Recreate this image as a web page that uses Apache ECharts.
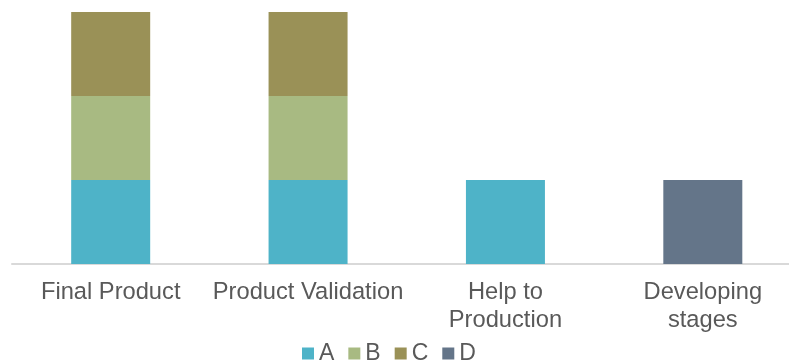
<!DOCTYPE html>
<html>
<head>
<meta charset="utf-8">
<title>Stages</title>
<script src="https://cdn.jsdelivr.net/npm/echarts@6/dist/echarts.min.js"></script>
<style>
  html, body { margin: 0; padding: 0; background: #ffffff; }
  #chart { width: 789px; height: 362px; }
</style>
</head>
<body>
<div id="chart"></div>
<script>
// Categories along the x axis (two-line names wrap with \n)
const categories = ['Final Product', 'Product Validation', 'Help to\nProduction', 'Developing\nstages'];

// Stacked segment values per series
const seriesA = [1, 1, 1, null];
const seriesB = [1, 1, null, null];
const seriesC = [1, 1, null, null];
const seriesD = [null, null, null, 1];

const seriesNames = ['A', 'B', 'C', 'D'];
const seriesValues = [seriesA, seriesB, seriesC, seriesD];
const seriesColors = ['#4eb3c8', '#a8ba82', '#9a9157', '#647589'];

const textColor = '#595959';
const fontFamily = 'Arial, "Liberation Sans", sans-serif';

const chart = echarts.init(document.getElementById('chart'), null, { renderer: 'canvas' });

chart.setOption({
  animation: false,
  backgroundColor: '#ffffff',
  // the plot runs slightly past the right edge of the canvas
  grid: { left: 12, top: 12, right: -12.5, bottom: 98, containLabel: false, outerBoundsMode: 'none' },
  legend: {
    data: seriesNames,
    left: 302,
    top: 342,
    icon: 'rect',
    itemWidth: 12,
    itemHeight: 12,
    itemGap: 14,
    padding: 0,
    textStyle: { color: textColor, fontSize: 23, fontFamily: fontFamily }
  },
  xAxis: {
    type: 'category',
    data: categories,
    axisLine: { show: true, lineStyle: { color: '#d9d9d9', width: 2 } },
    axisTick: { show: false },
    axisLabel: {
      color: textColor,
      fontSize: 23.7,
      fontFamily: fontFamily,
      lineHeight: 28,
      margin: 14,
      interval: 0
    }
  },
  yAxis: {
    type: 'value',
    min: 0,
    max: 3,
    interval: 1,
    show: false,
    splitLine: { show: false }
  },
  series: seriesNames.map((name, i) => ({
    name: name,
    type: 'bar',
    stack: 'total',
    barWidth: 79,
    data: seriesValues[i],
    itemStyle: { color: seriesColors[i] }
  }))
});
</script>
</body>
</html>
